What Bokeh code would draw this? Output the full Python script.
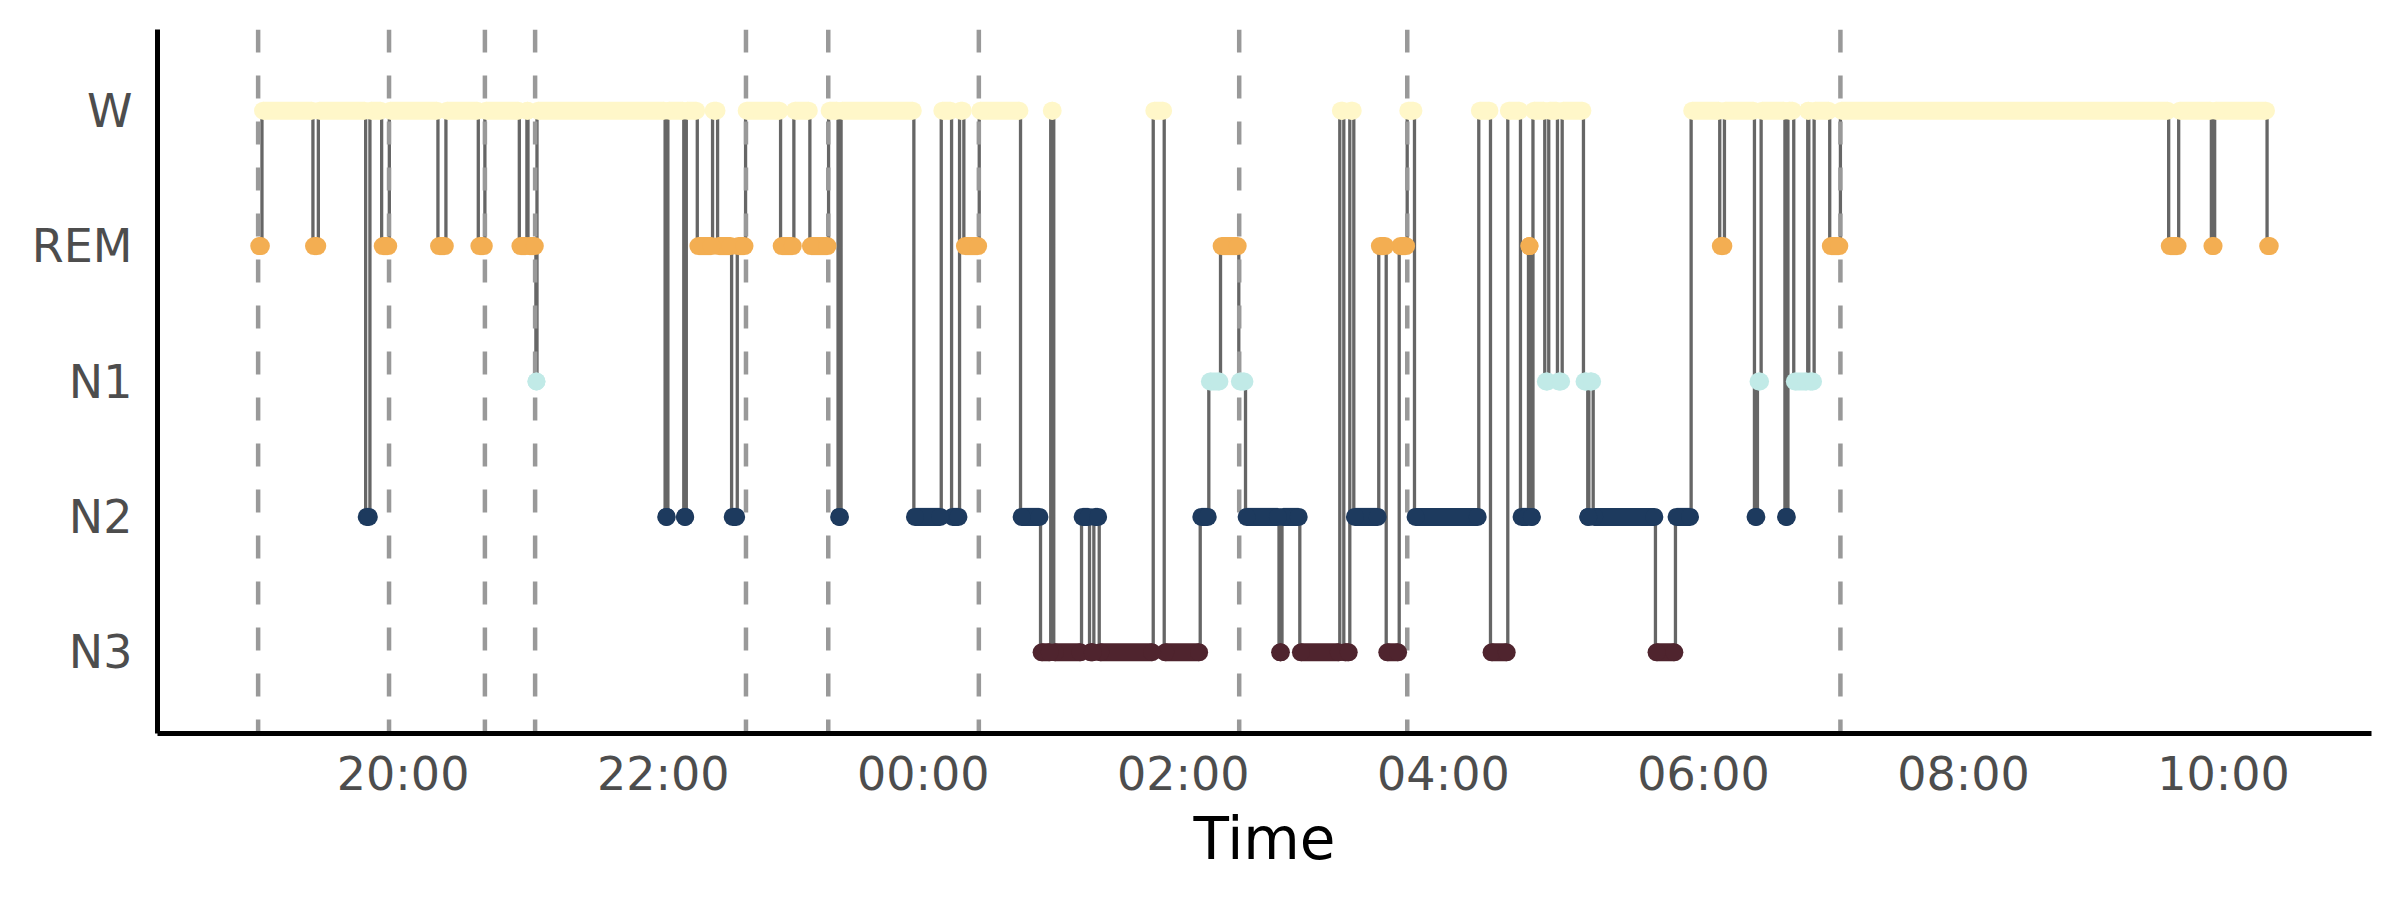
import numpy as np
import pandas as pd
from bokeh.plotting import figure
from bokeh.models import Range1d, FixedTicker, DatetimeTickFormatter, ColumnDataSource
from bokeh.embed import file_html
from bokeh.resources import INLINE

# ---------------- data ----------------
stage_order = ["N3", "N2", "N1", "REM", "W"]          # bottom -> top
stage_colors = {"W": "#FFF7C9", "REM": "#F3AE52", "N1": "#C1EAE7",
                "N2": "#1D3A5E", "N3": "#4F242E"}

seg_stage = ["REM", "W", "REM", "W", "N2", "W", "REM", "W", "REM", "W",
             "REM", "W", "REM", "W", "REM", "N1", "W", "N2", "W", "N2",
             "W", "REM", "W", "REM", "N2", "REM", "W", "REM", "W", "REM",
             "W", "N2", "W", "N2", "W", "N2", "W", "REM", "W", "N2",
             "N3", "W", "N3", "N2", "N3", "N2", "N3", "W", "N3", "N2",
             "N1", "REM", "N1", "N2", "N3", "N2", "N3", "W", "N3", "W",
             "N2", "REM", "N3", "REM", "W", "N2", "W", "N3", "W", "N2",
             "REM", "N2", "W", "N1", "W", "N1", "W", "N1", "N2", "N1",
             "N2", "N3", "N2", "W", "REM", "W", "N2", "N1", "W", "N2",
             "W", "N1", "W", "N1", "W", "REM", "W", "REM", "W", "REM",
             "W", "REM"]

seg_start = ["18:53:06", "18:54:52", "19:18:23", "19:20:53", "19:42:42",
             "19:44:41", "19:50:05", "19:53:38", "20:16:04", "20:19:45",
             "20:34:41", "20:37:44", "20:53:37", "20:57:07", "20:57:37",
             "21:01:16", "21:01:46", "22:00:53", "22:02:10", "22:09:30",
             "22:10:40", "22:15:44", "22:22:47", "22:25:06", "22:31:34",
             "22:34:11", "22:38:01", "22:54:10", "23:00:18", "23:07:41",
             "23:16:19", "23:20:41", "23:22:05", "23:55:40", "00:08:18",
             "00:13:04", "00:16:45", "00:18:44", "00:25:50", "00:44:53",
             "00:54:07", "00:58:49", "01:00:13", "01:13:02", "01:16:43",
             "01:18:43", "01:21:12", "01:46:07", "01:51:11", "02:07:48",
             "02:11:46", "02:17:10", "02:25:36", "02:28:42", "02:44:09",
             "02:45:32", "02:53:45", "03:12:12", "03:14:03", "03:16:49",
             "03:18:40", "03:30:11", "03:33:37", "03:39:37", "03:43:18",
             "03:46:40", "04:16:20", "04:21:44", "04:29:43", "04:35:34",
             "04:39:16", "04:40:11", "04:41:20", "04:46:47", "04:48:37",
             "04:52:38", "04:54:49", "05:04:38", "05:06:37", "05:07:07",
             "05:09:07", "05:37:51", "05:47:05", "05:54:19", "06:07:31",
             "06:09:41", "06:23:32", "06:24:55", "06:26:37", "06:37:36",
             "06:38:59", "06:41:40", "06:48:07", "06:48:37", "06:51:04",
             "06:58:16", "07:03:12", "09:34:40", "09:39:17", "09:54:22",
             "09:55:53", "10:20:04"]
record_end = "10:21:49"

event_times = ["18:53:06", "19:53:30", "20:37:44", "21:00:54", "22:38:12",
               "23:16:10", "00:25:39", "02:25:47", "03:43:20", "07:03:12"]

tick_times = ["20:00", "22:00", "00:00", "02:00", "04:00", "06:00",
              "08:00", "10:00"]


def to_ms(s):
    t = pd.Timestamp("2024-01-01 " + s)
    if t.hour < 12:
        t += pd.Timedelta(days=1)
    return t.value / 1e6


starts = np.array([to_ms(s) for s in seg_start])
ends = np.append(starts[1:], to_ms(record_end))
levels = np.array([stage_order.index(s) for s in seg_stage], dtype=float)
colors = [stage_colors[s] for s in seg_stage]

# ---------------- figure ----------------
span = ends[-1] - starts[0]
xmin = starts[0] - 0.05 * span
xmax = ends[-1] + 0.05 * span

p = figure(width=2392, height=892, x_axis_type="datetime",
           x_range=Range1d(xmin, xmax), y_range=Range1d(-0.6, 4.6),
           output_backend="svg", toolbar_location=None,
           min_border_left=157, min_border_right=21,
           min_border_top=29, min_border_bottom=159)
p.outline_line_color = None
p.grid.visible = False
p.background_fill_color = "white"
p.border_fill_color = "white"

# step line (transitions)
step_x = np.append(starts, ends[-1])
step_y = np.append(levels, levels[-1])
p.step(x=step_x, y=step_y, mode="after", line_color="#666666", line_width=3.3)

# event dashed lines
ev = [to_ms(s) for s in event_times]
p.segment(x0=ev, y0=[4.6] * len(ev), x1=ev, y1=[-0.6] * len(ev),
          line_color="#999999", line_width=4.5, line_dash="23 23")

# stage bands / markers
half = np.minimum(30000.0, (ends - starts) / 2.0)
c1 = starts + half
c2 = ends - half
src = ColumnDataSource(dict(c1=c1, c2=c2, y=levels, color=colors))
p.segment(x0="c1", y0="y", x1="c2", y1="y", line_width=18,
          line_color="color", line_cap="butt", source=src)
p.scatter(x="c1", y="y", size=18, fill_color="color", line_color=None, source=src)
p.scatter(x="c2", y="y", size=18, fill_color="color", line_color=None, source=src)

# axes
p.yaxis.ticker = FixedTicker(ticks=[0, 1, 2, 3, 4])
p.yaxis.major_label_overrides = {i: s for i, s in enumerate(stage_order)}
p.xaxis.ticker = FixedTicker(ticks=[to_ms(t) for t in tick_times])
fmt = "%H:%M"
p.xaxis.formatter = DatetimeTickFormatter(hours=fmt, hourmin=fmt, minutes=fmt,
                                          minsec=fmt, days=fmt, seconds=fmt)
for ax in (p.xaxis, p.yaxis):
    ax.axis_line_color = "black"
    ax.axis_line_width = 5
    ax.major_tick_line_color = None
    ax.minor_tick_line_color = None
    ax.major_tick_out = 0
    ax.major_tick_in = 0
    ax.major_label_text_font = "DejaVu Sans"
    ax.major_label_text_font_size = "46px"
    ax.major_label_text_color = "#4D4D4D"
p.yaxis.major_label_standoff = 25
p.xaxis.major_label_standoff = 13
p.xaxis.axis_label = "Time"
p.xaxis.axis_label_text_font = "DejaVu Sans"
p.xaxis.axis_label_text_font_size = "58px"
p.xaxis.axis_label_text_font_style = "normal"
p.xaxis.axis_label_text_color = "black"
p.xaxis.axis_label_standoff = 1

open("out.html", "w").write(file_html(p, INLINE))
